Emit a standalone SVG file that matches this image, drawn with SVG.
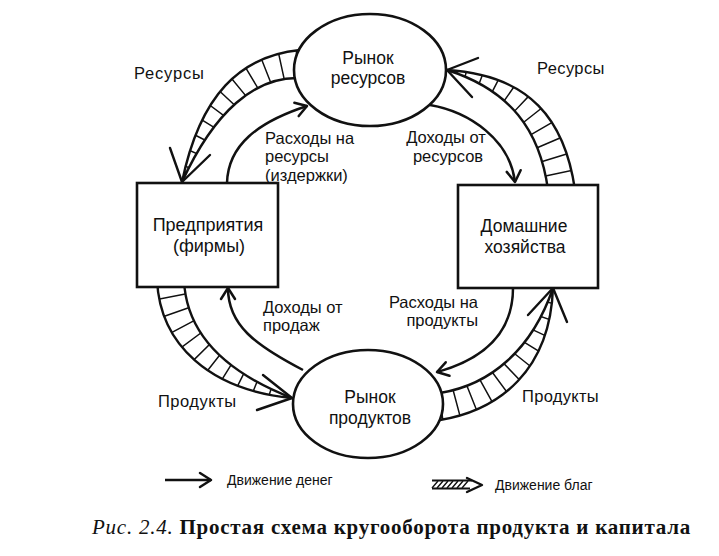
<svg xmlns="http://www.w3.org/2000/svg" width="719" height="556" viewBox="0 0 719 556">
<style>
.node{fill:#fff;stroke:#111;stroke-width:2.6}
.lbl{font-family:"Liberation Sans",Arial,sans-serif;font-size:16.5px;fill:#111}
.nlbl{font-family:"Liberation Sans",Arial,sans-serif;font-size:17.5px;fill:#111;text-anchor:middle}
.leg{font-family:"Liberation Sans",Arial,sans-serif;font-size:14px;fill:#111}
.money{fill:none;stroke:#111;stroke-width:2.5}
.edge{fill:none;stroke:#111;stroke-width:2.4;stroke-linejoin:round}
.hatch{fill:none;stroke:#111;stroke-width:40;stroke-dasharray:1.5 14.5}
.wing{fill:none;stroke:#111;stroke-width:2.4;stroke-linecap:round;stroke-linejoin:round}
</style>
<defs>
<marker id="ah" markerUnits="userSpaceOnUse" markerWidth="20" markerHeight="20" refX="0" refY="0" orient="auto" overflow="visible">
<path d="M-11,-7 L0,0 L-11,7" fill="none" stroke="#111" stroke-width="2.5" stroke-linecap="round" stroke-linejoin="round"/>
</marker>
<clipPath id="cTL"><path d="M300,50 C240,56 200,95 182,182 C215,110 255,78 297,78 Z"/></clipPath>
<clipPath id="cTR"><path d="M575,190 C565,120 530,75 447,70 C510,90 540,130 548,190 Z"/></clipPath>
<clipPath id="cBL"><path d="M157,280 C160,345 210,390 292,398 C220,370 186,330 184,280 Z"/></clipPath>
<clipPath id="cBR"><path d="M440,420 C500,410 550,370 553,288 C532,350 490,385 440,393 Z"/></clipPath>
</defs>
<rect width="719" height="556" fill="#fff"/>
<g id="connectors">
<g id="goods-tl">
<path class="hatch" d="M298,64 C248,67 208,102 182,182" clip-path="url(#cTL)"/>
<path class="edge" d="M300,50 C240,56 200,95 182,182 C215,110 255,78 297,78"/>
<path class="wing" d="M170,148 L182,182 L210,155"/>
</g>
<g id="goods-tr">
<path class="hatch" d="M561,190 C552,125 520,82 447,70" clip-path="url(#cTR)"/>
<path class="edge" d="M575,190 C565,120 530,75 447,70 C510,90 540,130 548,190"/>
<path class="wing" d="M478,58 L447,70 L472,97"/>
</g>
<g id="goods-bl">
<path class="hatch" d="M170,280 C173,338 215,380 292,398" clip-path="url(#cBL)"/>
<path class="edge" d="M157,280 C160,345 210,390 292,398 C220,370 186,330 184,280"/>
<path class="wing" d="M263,375 L292,398 L257,410"/>
</g>
<g id="goods-br">
<path class="hatch" d="M440,406 C495,398 541,360 553,288" clip-path="url(#cBR)"/>
<path class="edge" d="M440,420 C500,410 550,370 553,288 C532,350 490,385 440,393"/>
<path class="wing" d="M528,315 L553,288 L567,322"/>
</g>
<path class="money" d="M227,183 C228,145 258,122 307,106" marker-end="url(#ah)"/>
<path class="money" d="M430,105 C470,112 510,140 515,182" marker-end="url(#ah)"/>
<path class="money" d="M303,370 C255,345 228,325 228,288" marker-end="url(#ah)"/>
<path class="money" d="M513,288 C513,335 480,360 437,372" marker-end="url(#ah)"/>
</g>
<g id="node-resource-market">
<ellipse class="node" cx="370" cy="70" rx="76" ry="56"/>
<text class="nlbl" x="368" y="64">Рынок</text>
<text class="nlbl" x="368" y="84">ресурсов</text>
</g>
<g id="node-product-market">
<ellipse class="node" cx="368" cy="404" rx="75" ry="54"/>
<text class="nlbl" x="370" y="403">Рынок</text>
<text class="nlbl" x="370" y="424">продуктов</text>
</g>
<g id="node-firms">
<rect class="node" x="137" y="183" width="141" height="104"/>
<text class="nlbl" x="208" y="231" style="font-size:18px">Предприятия</text>
<text class="nlbl" x="209" y="252" style="font-size:18px">(фирмы)</text>
</g>
<g id="node-households">
<rect class="node" x="458" y="185" width="140" height="103"/>
<text class="nlbl" x="524" y="232">Домашние</text>
<text class="nlbl" x="525" y="253">хозяйства</text>
</g>
<g id="labels">
<text class="lbl" x="134" y="79" style="letter-spacing:0.8px">Ресурсы</text>
<text class="lbl" x="537" y="74" style="letter-spacing:0.4px">Ресурсы</text>
<text class="lbl" x="265" y="144">Расходы на</text>
<text class="lbl" x="265" y="162">ресурсы</text>
<text class="lbl" x="265" y="181">(издержки)</text>
<text class="lbl" x="446" y="143" text-anchor="middle">Доходы от</text>
<text class="lbl" x="448" y="162" text-anchor="middle">ресурсов</text>
<text class="lbl" x="263" y="313">Доходы от</text>
<text class="lbl" x="263" y="331">продаж</text>
<text class="lbl" x="478" y="308" text-anchor="end">Расходы на</text>
<text class="lbl" x="478" y="326" text-anchor="end">продукты</text>
<text class="lbl" x="158" y="407" style="letter-spacing:0.5px">Продукты</text>
<text class="lbl" x="522" y="402" style="letter-spacing:0.3px">Продукты</text>
</g>
<g id="legend">
<path class="money" d="M165,480 L211,480" marker-end="url(#ah)"/>
<text class="leg" x="227" y="485">Движение денег</text>
<g>
<path d="M432,480.5 L472,480.5 M432,488.5 L470,488.5" stroke="#111" stroke-width="2.2" fill="none"/>
<path d="M432,488 L438,481 M437,488 L443,481 M442,488 L448,481 M447,488 L453,481 M452,488 L458,481 M457,488 L463,481 M462,488 L468,481" stroke="#111" stroke-width="1.4" fill="none"/>
<path class="wing" d="M467,478 L482,485 L467,492"/>
</g>
<text class="leg" x="495" y="490">Движение благ</text>
</g>
<text x="92" y="534" font-family="'Liberation Serif','Times New Roman',serif" font-size="21" letter-spacing="0.75" fill="#111"><tspan font-style="italic">Рис. 2.4.</tspan><tspan font-weight="bold"> Простая схема кругооборота продукта и капитала</tspan></text>
</svg>
